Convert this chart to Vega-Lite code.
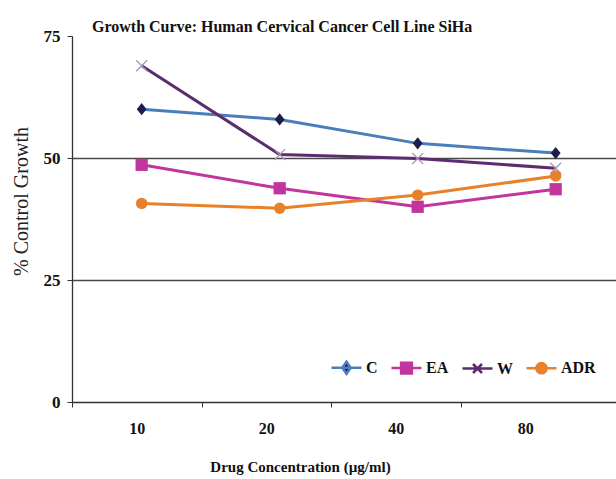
{
  "$schema": "https://vega.github.io/schema/vega-lite/v6.json",
  "width": 544,
  "height": 366,
  "autosize": {"type": "none"},
  "padding": {"left": 72, "top": 36, "right": 0, "bottom": 77},
  "background": "white",
  "title": {
    "text": "Growth Curve: Human Cervical Cancer Cell Line SiHa",
    "font": "Liberation Serif",
    "fontSize": 16,
    "fontWeight": "bold",
    "color": "#111111",
    "anchor": "start",
    "frame": "group",
    "dx": 20,
    "dy": 13,
    "offset": 5
  },
  "config": {"view": {"stroke": null}},
  "data": {
    "values": [
      {"conc": "10", "series": "C", "value": 60.0},
      {"conc": "20", "series": "C", "value": 57.9},
      {"conc": "40", "series": "C", "value": 53.0},
      {"conc": "80", "series": "C", "value": 51.0},
      {"conc": "10", "series": "EA", "value": 48.6},
      {"conc": "20", "series": "EA", "value": 43.8},
      {"conc": "40", "series": "EA", "value": 40.0},
      {"conc": "80", "series": "EA", "value": 43.6},
      {"conc": "10", "series": "W", "value": 68.9},
      {"conc": "20", "series": "W", "value": 50.7},
      {"conc": "40", "series": "W", "value": 49.9},
      {"conc": "80", "series": "W", "value": 47.9},
      {"conc": "10", "series": "ADR", "value": 40.7},
      {"conc": "20", "series": "ADR", "value": 39.7},
      {"conc": "40", "series": "ADR", "value": 42.4},
      {"conc": "80", "series": "ADR", "value": 46.3}
    ]
  },
  "encoding": {
    "y": {
      "field": "value",
      "type": "quantitative",
      "scale": {"domain": [0, 75], "nice": false},
      "axis": {
        "values": [0, 25, 50, 75],
        "title": "% Control Growth",
        "titleFont": "Liberation Serif",
        "titleFontSize": 20,
        "titleFontWeight": "normal",
        "titleColor": "#222222",
        "titleX": -45,
        "titleY": 165,
        "titleAlign": "center",
        "titleBaseline": "alphabetic",
        "labelFont": "Liberation Serif",
        "labelFontSize": 17,
        "labelFontWeight": "bold",
        "labelColor": "#111111",
        "labelPadding": 7,
        "tickSize": 5,
        "tickColor": "#333333",
        "domainColor": "#333333",
        "domainWidth": 1.3,
        "grid": true,
        "gridColor": "#4a4a4a",
        "gridWidth": 1.3,
        "gridOpacity": {"condition": {"test": "datum.value == 75 || datum.value == 0", "value": 0}, "value": 1}
      }
    }
  },
  "layer": [
    {
      "mark": {"type": "point", "opacity": 0},
      "encoding": {
        "x": {
          "field": "conc",
          "type": "nominal",
          "sort": ["10", "20", "40", "80"],
          "scale": {"type": "band", "paddingInner": 0, "paddingOuter": 0.1, "align": 0},
          "axis": {
            "title": "Drug Concentration (µg/ml)",
            "titleFont": "Liberation Serif",
            "titleFontSize": 15,
            "titleFontWeight": "bold",
            "titleColor": "#111111",
            "titleX": 228,
            "titleY": 69,
            "titleAlign": "center",
            "titleBaseline": "alphabetic",
            "labelFont": "Liberation Serif",
            "labelFontSize": 16,
            "labelFontWeight": "bold",
            "labelColor": "#111111",
            "labelAngle": 0,
            "labelPadding": 13,
            "tickSize": 5,
            "tickBand": "extent",
            "tickOpacity": {"condition": {"test": "datum.value == '80'", "value": 0}, "value": 1},
            "tickColor": "#333333",
            "domainColor": "#333333",
            "domainWidth": 1.3,
            "grid": false
          }
        }
      }
    },
    {
      "mark": {"type": "line", "strokeWidth": 3},
      "encoding": {
        "x": {"field": "conc", "type": "nominal", "sort": ["10", "20", "40", "80"], "scale": {"type": "point", "padding": 0.471, "align": 0.536}, "axis": null},
        "color": {
          "field": "series",
          "type": "nominal",
          "scale": {"domain": ["ADR", "C", "EA", "W"], "range": ["#e8812a", "#4a7ebb", "#c1359d", "#5b2d6f"]},
          "legend": null
        }
      }
    },
    {
      "transform": [{"filter": "datum.series == 'C'"}],
      "mark": {"type": "point", "shape": "M-0.8,0L0,-1L0.8,0L0,1Z", "filled": true, "color": "#1d1d4b", "size": 150, "opacity": 1},
      "encoding": {
        "x": {"field": "conc", "type": "nominal", "sort": ["10", "20", "40", "80"], "scale": {"type": "point", "padding": 0.471, "align": 0.536}, "axis": null}
      }
    },
    {
      "transform": [{"filter": "datum.series == 'EA'"}],
      "mark": {"type": "point", "shape": "square", "filled": true, "color": "#c1359d", "size": 150, "opacity": 1},
      "encoding": {
        "x": {"field": "conc", "type": "nominal", "sort": ["10", "20", "40", "80"], "scale": {"type": "point", "padding": 0.471, "align": 0.536}, "axis": null}
      }
    },
    {
      "transform": [{"filter": "datum.series == 'W'"}],
      "mark": {"type": "point", "shape": "M-1,-1L1,1M-1,1L1,-1", "filled": false, "stroke": "#a898b5", "strokeWidth": 1.3, "size": 120, "opacity": 1},
      "encoding": {
        "x": {"field": "conc", "type": "nominal", "sort": ["10", "20", "40", "80"], "scale": {"type": "point", "padding": 0.471, "align": 0.536}, "axis": null}
      }
    },
    {
      "transform": [{"filter": "datum.series == 'ADR'"}],
      "mark": {"type": "point", "shape": "circle", "filled": true, "color": "#e8812a", "size": 130, "opacity": 1},
      "encoding": {
        "x": {"field": "conc", "type": "nominal", "sort": ["10", "20", "40", "80"], "scale": {"type": "point", "padding": 0.471, "align": 0.536}, "axis": null}
      }
    },
    {
      "mark": {"type": "point", "filled": true, "opacity": 0},
      "encoding": {
        "x": {"field": "conc", "type": "nominal", "sort": ["10", "20", "40", "80"], "scale": {"type": "point", "padding": 0.471, "align": 0.536}, "axis": null},
        "shape": {
          "field": "series",
          "type": "nominal",
          "scale": {
            "domain": ["C", "EA", "W", "ADR"],
            "range": [
              "M-1,0L1,0M0,-0.4L0.28,0L0,0.4L-0.28,0Z",
              "M-1,0L1,0M-0.36,-0.36L0.36,-0.36L0.36,0.36L-0.36,0.36Z",
              "M-1,0L1,0M-0.3,-0.3L0.3,0.3M-0.3,0.3L0.3,-0.3",
              "M-1,0L1,0M-0.34,0A0.34,0.34 0 1,0 0.34,0A0.34,0.34 0 1,0 -0.34,0Z"
            ]
          },
          "legend": {"title": null, "orient": "none", "legendX": 258, "legendY": 315, "direction": "horizontal", "columns": 4, "symbolSize": 900, "symbolStrokeWidth": 2.5, "symbolOpacity": 1, "labelFont": "Liberation Serif", "labelFontSize": 16, "labelFontWeight": "bold", "labelColor": "#111111", "columnPadding": 8, "labelOffset": 3}
        },
        "fill": {
          "field": "series",
          "type": "nominal",
          "scale": {"domain": ["C", "EA", "W", "ADR"], "range": ["#1d1d4b", "#c1359d", "transparent", "#e8812a"]},
          "legend": {"title": null, "orient": "none", "legendX": 258, "legendY": 315, "direction": "horizontal", "columns": 4, "symbolSize": 900, "symbolStrokeWidth": 2.5, "symbolOpacity": 1, "labelFont": "Liberation Serif", "labelFontSize": 16, "labelFontWeight": "bold", "labelColor": "#111111", "columnPadding": 8, "labelOffset": 3}
        },
        "stroke": {
          "field": "series",
          "type": "nominal",
          "scale": {"domain": ["C", "EA", "W", "ADR"], "range": ["#4a7ebb", "#c1359d", "#5b2d6f", "#e8812a"]},
          "legend": {"title": null, "orient": "none", "legendX": 258, "legendY": 315, "direction": "horizontal", "columns": 4, "symbolSize": 900, "symbolStrokeWidth": 2.5, "symbolOpacity": 1, "labelFont": "Liberation Serif", "labelFontSize": 16, "labelFontWeight": "bold", "labelColor": "#111111", "columnPadding": 8, "labelOffset": 3}
        }
      }
    }
  ],
  "resolve": {"scale": {"x": "independent"}, "axis": {"x": "independent"}}
}
